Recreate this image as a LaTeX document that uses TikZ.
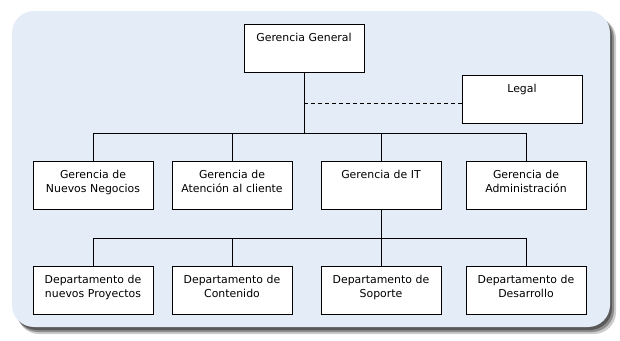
\documentclass[tikz,border=0pt]{standalone}
\usepackage{fontspec}
\setmainfont{DejaVu Sans}
\usepackage{tikz}
\usetikzlibrary{calc}
\definecolor{panelblue}{HTML}{E4ECF7}

\begin{document}
\begin{tikzpicture}[
  x=1pt,y=-1pt,
  unit/.style={draw,rectangle,fill=white,line width=0.9pt,text width=112pt,
               align=center,inner xsep=4pt,inner ysep=4pt,
               text height=13pt,text depth=27pt,
               font=\fontsize{10.9}{14}\selectfont},
  link/.style={line width=0.9pt},
  dotted link/.style={line width=0.9pt,dash pattern=on 4pt off 3pt}
]
\useasboundingbox (0,0) rectangle (620,340);
% Panel with shadow
\fill[black!20,rounded corners=22pt] (17,17) rectangle (616,334);
\fill[black!45,rounded corners=22pt] (16,16) rectangle (614,332);
\fill[black!65,rounded corners=22pt] (15,15) rectangle (612,330);
\fill[panelblue,rounded corners=22pt] (12,11) rectangle (610,327);
% Units
\node[unit] (gg) at (304,48) {Gerencia General};
\node[unit] (legal) at (522,99) {Legal};
\node[unit] (gnn) at (93,185) {Gerencia de\\Nuevos Negocios};
\node[unit] (gac) at (232,185) {Gerencia de\\Atención al cliente};
\node[unit] (git) at (381,185) {Gerencia de IT};
\node[unit] (gad) at (526,185) {Gerencia de\\Administración};
\node[unit] (dnp) at (93,290.5) {Departamento de\\nuevos Proyectos};
\node[unit] (dco) at (232,290.5) {Departamento de\\Contenido};
\node[unit] (dso) at (381,290.5) {Departamento de\\Soporte};
\node[unit] (dde) at (526,290.5) {Departamento de\\Desarrollo};
% Lines
\coordinate (lg) at (304,103);
\coordinate (bus1) at (304,133);
\coordinate (bus2) at (381,238);
\draw[link] (gg.south) -- (bus1);
\draw[dotted link] (lg) -- (lg -| legal.west);
\draw[link] (gnn.north) |- (bus1);
\draw[link] (gac.north) -- (gac.north |- bus1);
\draw[link] (git.north) -- (git.north |- bus1);
\draw[link] (gad.north) |- (bus1);
\draw[link] (git.south) -- (bus2);
\draw[link] (dnp.north) |- (bus2);
\draw[link] (dco.north) -- (dco.north |- bus2);
\draw[link] (dso.north) -- (bus2);
\draw[link] (dde.north) |- (bus2);
\end{tikzpicture}
\end{document}
